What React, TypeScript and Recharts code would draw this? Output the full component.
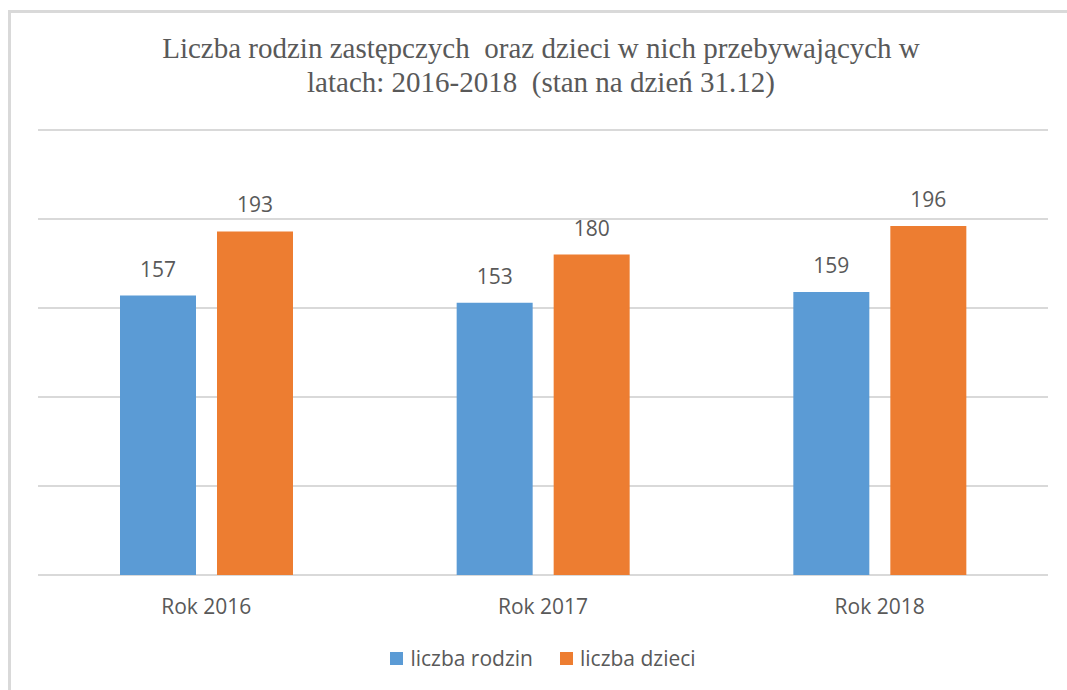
import { BarChart, Bar, XAxis, YAxis, CartesianGrid, Legend, LabelList } from 'recharts';

// kategorie i wartości
const years = ['Rok 2016', 'Rok 2017', 'Rok 2018'];
const rodziny = [157, 153, 159];
const dzieci = [193, 180, 196];
const yTicks = [0, 50, 100, 150, 200, 250];

const SERIES = [
  { key: 'rodziny', name: 'liczba rodzin', color: '#5B9BD5' },
  { key: 'dzieci', name: 'liczba dzieci', color: '#ED7D31' },
];

const TEXT = '#595959';
const GRID = '#D9D9D9';
const SANS = '"Open Sans", "Liberation Sans", sans-serif';

const data = years.map((y, i) => ({ name: y, rodziny: rodziny[i], dzieci: dzieci[i] }));

function LegendContent() {
  return (
    <div style={{ display: 'flex', justifyContent: 'center', alignItems: 'center', fontFamily: SANS, fontSize: 21, color: TEXT }}>
      {SERIES.map((s, i) => (
        <span key={s.key} style={{ display: 'flex', alignItems: 'center', marginLeft: i ? 27 : 0 }}>
          <span style={{ width: 13, height: 13, background: s.color, marginRight: 7, display: 'inline-block' }} />
          {s.name}
        </span>
      ))}
    </div>
  );
}

export default function App() {
  return (
    <div style={{ position: 'fixed', left: 0, top: 0, width: 1067, height: 690, background: '#fff', overflow: 'hidden' }}>
      <div
        style={{
          position: 'absolute', left: 8, top: 10, width: 1100, height: 720,
          border: `3px solid ${GRID}`, boxSizing: 'border-box',
        }}
      />
      <div
        style={{
          position: 'absolute', left: 91, top: 31, width: 900, textAlign: 'center',
          fontFamily: '"Liberation Serif", "Times New Roman", serif', fontSize: 29, lineHeight: '34px',
          color: TEXT, whiteSpace: 'pre',
        }}
      >
        {'Liczba rodzin zastępczych  oraz dzieci w nich przebywających w\nlatach: 2016-2018  (stan na dzień 31.12)'}
      </div>
      <div style={{ position: 'absolute', left: 0, top: 0 }}>
        <BarChart
          width={1067}
          height={690}
          data={data}
          margin={{ top: 130, right: 19, bottom: 45, left: 38 }}
          barSize={76}
          barGap={21}
        >
          <CartesianGrid vertical={false} stroke={GRID} strokeWidth={2} />
          <YAxis
            width={0}
            domain={[0, 250]}
            ticks={yTicks}
            interval={0}
            tick={{ fill: 'transparent', fontSize: 1 }}
            axisLine={false}
            tickLine={false}
          />
          <XAxis
            dataKey="name"
            height={40}
            axisLine={false}
            tickLine={false}
            tickSize={0}
            tickMargin={24}
            tick={{ fontSize: 21, fill: TEXT, fontFamily: SANS }}
          />
          <Legend verticalAlign="bottom" height={30} content={<LegendContent />} wrapperStyle={{ bottom: 16 }} />
          {SERIES.map((s) => (
            <Bar key={s.key} dataKey={s.key} name={s.name} fill={s.color} isAnimationActive={false}>
              <LabelList dataKey={s.key} position="top" offset={19} style={{ fontSize: 21, fill: TEXT, fontFamily: SANS }} />
            </Bar>
          ))}
        </BarChart>
      </div>
    </div>
  );
}
